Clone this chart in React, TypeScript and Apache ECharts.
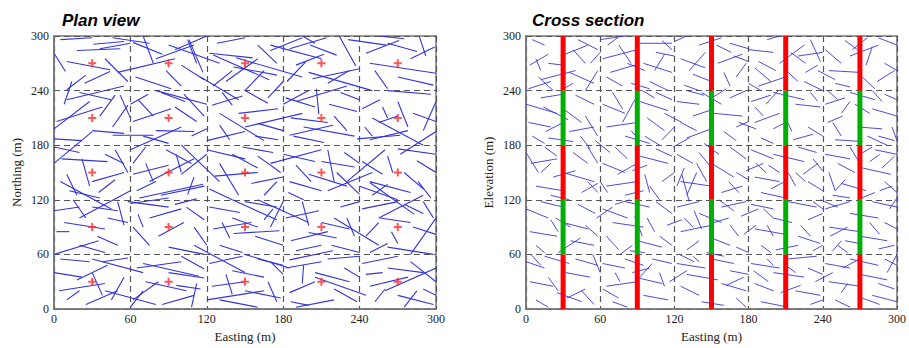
import React, { useEffect, useRef } from "react";
import * as echarts from "echarts";

const tickValues = [0, 60, 120, 180, 240, 300];

// Plan view fracture traces [x1, y1, x2, y2] (Easting, Northing)
const planSegments = [
  [0,281,9,261],[10,272,44,263],[31,291,55,294],[36,286,60,292],[18,284,52,286],[24,248,44,261],[10,241,25,257],[40,275,58,250],[5,296,30,298],
  [46,298,75,292],[62,293,85,280],[70,300,78,270],[80,275,110,290],[88,262,100,245],[95,285,120,300],[100,268,118,252],[64,255,92,242],[105,296,112,270],
  [106,296,117,260],[122,281,156,276],[141,266,175,257],[128,292,150,298],[135,250,160,275],[160,290,175,270],[165,262,150,240],[125,245,140,262],[170,284,195,298],
  [185,286,214,298],[201,290,222,279],[190,268,212,280],[203,253,240,264],[224,300,237,267],[183,250,198,272],[215,248,232,262],[195,300,205,292],
  [231,296,261,290],[245,281,271,295],[248,270,300,259],[287,299,292,278],[262,292,285,283],[252,262,262,242],[270,255,298,246],[280,275,299,288],[255,300,275,297],
  [0,198,28,228],[8,225,14,250],[2,206,38,222],[20,238,45,230],[36,212,48,235],[46,200,58,224],[0,187,22,185],[30,196,55,193],[52,235,60,210],
  [62,206,92,220],[66,230,78,212],[80,196,110,195],[95,222,112,206],[84,238,103,228],[102,236,118,212],[70,190,90,182],[108,190,120,198],[60,225,74,236],
  [124,224,148,234],[130,202,138,186],[145,215,176,220],[150,240,168,226],[160,204,180,196],[168,232,180,250],[132,238,140,224],[158,190,176,186],[120,185,150,195],
  [182,232,205,222],[186,210,215,205],[206,242,208,214],[216,225,238,217],[220,212,230,196],[188,190,212,183],[225,238,240,230],[196,200,236,190],[180,225,200,240],
  [242,220,256,230],[258,222,262,210],[270,228,278,200],[282,215,300,206],[248,186,278,196],[262,240,296,236],[290,196,300,228],[255,205,270,212],[244,200,250,190],
  [0,178,20,172],[6,165,42,162],[10,148,18,125],[22,165,28,135],[30,140,55,150],[40,170,55,160],[35,128,48,142],[48,175,58,150],[12,130,36,122],
  [62,148,90,158],[65,130,80,140],[72,160,78,140],[84,125,118,135],[96,170,100,150],[100,148,120,170],[105,126,110,145],[88,175,108,160],[62,160,72,178],
  [120,175,150,165],[126,146,160,150],[130,160,145,125],[148,178,172,172],[155,138,180,145],[160,168,178,150],[122,132,140,120],[165,125,175,140],[140,170,160,155],
  [180,170,205,162],[185,140,210,130],[190,158,202,140],[215,175,220,140],[222,150,240,126],[228,172,240,160],[184,128,196,120],[200,148,230,135],[210,162,236,156],
  [242,162,258,148],[248,140,280,128],[262,168,266,150],[270,176,300,170],[275,150,290,132],[285,163,300,150],[250,125,262,137],[286,140,296,122],[240,135,270,120],
  [0,108,20,112],[2,85,12,85],[8,95,40,88],[15,120,25,100],[30,112,50,108],[34,80,50,70],[42,100,58,95],[20,70,40,62],[50,118,55,92],
  [60,116,90,122],[62,90,75,70],[75,100,100,110],[82,80,102,95],[90,68,118,60],[104,112,118,98],[66,104,70,90],[110,90,120,70],[95,115,112,121],
  [122,112,146,106],[125,88,155,95],[130,70,148,62],[140,100,160,90],[150,118,175,112],[158,80,180,70],[165,98,172,110],[132,95,138,78],[170,90,180,118],
  [182,100,208,108],[186,75,215,85],[195,118,200,92],[210,95,232,88],[218,70,240,62],[225,112,240,118],[190,64,210,70],[230,100,236,80],[200,84,222,78],
  [242,110,270,118],[245,80,255,95],[256,100,280,95],[262,68,298,60],[275,115,290,105],[282,90,300,82],[248,62,262,72],[290,118,298,100],[265,85,270,72],
  [0,40,22,35],[4,20,40,28],[10,10,20,20],[18,32,42,48],[25,5,50,20],[38,52,58,56],[45,10,55,35],[30,40,38,15],[5,55,28,52],
  [62,10,82,30],[65,45,100,52],[72,30,104,20],[85,5,110,15],[90,40,118,34],[100,58,118,44],[108,2,112,28],[70,20,60,2],[96,26,115,22],
  [122,50,148,58],[124,25,150,30],[130,10,160,2],[140,42,165,35],[150,20,178,12],[160,55,180,48],[168,30,175,8],[135,38,140,16],[170,52,180,38],
  [182,45,210,52],[185,18,205,30],[190,2,220,10],[205,40,232,30],[215,55,240,58],[220,22,238,8],[195,28,196,48],[228,45,240,35],[186,8,200,4],
  [242,50,270,58],[248,25,278,35],[252,8,260,22],[262,45,290,40],[270,15,298,5],[280,52,300,30],[290,22,300,15],[245,38,258,40],[275,2,285,20]
];

// Longer plan-view traces that cross the cell boundaries
const planLongSegments = [
  [0,160,30,195],[46,191,78,191],[67,122,117,137],[58,118,90,112],[141,83,177,86],[70,50,114,36],[125,279,169,252],[143,276,195,255],
  [185,191,219,202],[238,187,272,191],[272,170,300,195],[248,139,283,104],[185,54,219,64],[0,60,35,75],[20,100,60,130],[80,240,120,225],
  [100,180,130,140],[150,200,195,215],[160,120,200,95],[200,260,250,240],[230,140,260,175],[260,20,300,45],[220,100,255,70],[40,20,80,5],
  [110,70,150,40],[170,160,210,175],[50,260,95,275],[10,230,55,245],[120,10,165,20],[250,210,290,180],[205,35,245,15],[140,120,175,98],
  [75,140,110,165],[30,55,70,40],[280,60,300,100],[190,228,230,245],[115,255,145,230],[60,175,100,200],[5,140,45,110],[215,130,250,150],
  [150,60,185,45],[90,290,130,270],[170,290,210,275],[255,100,290,125],[130,215,165,185]
];

// Cross-section fracture traces [x1, y1, x2, y2] (Easting, Elevation)
const sectionSegments = [
  [5,296,15,290],[8,275,12,262],[12,252,40,262],[2,242,20,250],[28,278,50,290],[35,260,55,248],[42,296,58,285],[18,270,30,268],[48,240,58,262],
  [60,296,80,300],[62,275,90,285],[65,255,78,245],[75,290,85,270],[92,292,118,292],[95,270,118,260],[100,250,115,240],[105,282,120,278],[85,248,100,242],
  [120,294,130,300],[125,275,145,265],[135,258,150,250],[140,290,158,298],[155,270,175,280],[160,260,165,245],[165,292,180,286],[128,246,140,240],[170,255,178,270],
  [180,285,200,282],[185,265,198,250],[195,296,205,300],[205,270,225,290],[212,260,220,250],[220,278,240,282],[230,296,238,272],[188,245,210,255],[225,250,240,240],
  [242,285,255,270],[245,262,270,260],[258,295,268,285],[262,278,285,290],[272,255,282,242],[285,298,300,290],[290,270,300,262],[250,248,262,244],[275,268,280,288],
  [0,225,25,215],[2,205,20,200],[5,190,15,182],[12,232,30,236],[30,220,45,205],[35,195,55,200],[40,235,55,225],[18,188,38,184],[48,212,58,190],
  [62,225,80,215],[65,200,90,205],[70,238,78,220],[80,190,100,182],[92,228,115,218],[98,210,112,196],[105,238,118,230],[85,196,90,188],[110,186,120,200],
  [122,228,140,225],[125,205,138,196],[130,188,150,198],[142,238,158,225],[152,215,175,212],[160,195,170,185],[165,232,178,240],[135,212,148,218],[170,200,180,206],
  [182,228,198,235],[185,205,205,215],[190,188,200,182],[200,238,225,230],[210,210,215,195],[218,225,238,222],[228,200,240,190],[185,222,192,212],[230,238,236,228],
  [242,225,258,232],[248,205,255,190],[255,215,262,228],[262,238,282,230],[268,200,288,198],[280,220,300,212],[290,236,300,230],[285,190,298,185],[250,186,272,184],
  [0,172,10,150],[4,160,25,165],[8,135,30,130],[15,178,25,168],[30,150,55,140],[38,172,50,160],[45,128,58,138],[20,125,35,120],[50,178,58,160],
  [62,160,80,150],[65,135,90,140],[72,178,82,165],[80,125,95,130],[92,168,115,160],[96,148,100,128],[105,176,118,168],[110,140,120,150],[86,152,98,158],
  [122,170,135,160],[125,140,150,135],[130,125,138,150],[140,172,150,155],[150,160,168,145],[158,128,175,135],[165,178,178,165],[170,150,180,142],[128,155,122,135],
  [182,175,200,165],[185,145,205,140],[190,128,210,122],[200,170,225,162],[212,150,218,135],[220,178,235,172],[228,140,240,130],[196,158,205,150],[232,165,240,152],
  [242,170,262,165],[245,150,250,130],[255,138,275,130],[262,178,270,160],[272,155,295,148],[282,175,300,170],[290,140,300,128],[248,125,262,122],[278,162,286,170],
  [0,110,18,100],[3,85,25,80],[8,70,15,62],[12,118,30,112],[30,95,50,88],[36,75,55,70],[42,115,56,105],[20,98,26,85],[48,92,58,80],
  [62,110,82,100],[65,80,75,65],[70,95,95,90],[80,118,100,112],[90,75,110,68],[98,100,104,85],[105,118,118,105],[108,80,118,70],[84,64,96,62],
  [122,112,140,118],[125,85,150,92],[130,65,140,75],[140,105,158,95],[150,78,165,70],[158,112,178,118],[165,92,172,80],[170,68,180,62],[128,100,135,90],
  [182,115,200,110],[185,88,210,82],[190,70,198,62],[200,100,215,95],[212,118,235,112],[220,80,238,72],[228,98,240,105],[195,92,200,80],[232,64,240,70],
  [242,110,262,118],[245,90,270,85],[252,70,260,62],[262,105,285,100],[270,80,292,75],[280,118,300,112],[290,95,300,88],[248,64,255,75],[285,66,298,70],
  [0,52,15,45],[3,30,22,25],[8,10,18,2],[15,58,35,50],[25,18,45,8],[32,40,52,35],[40,55,58,48],[45,20,55,5],[18,35,26,20],
  [62,50,80,45],[65,25,90,30],[70,8,82,2],[80,55,95,48],[88,35,110,28],[95,15,115,10],[102,55,118,50],[108,40,112,25],[72,40,76,30],
  [122,50,145,45],[125,25,140,15],[130,38,155,32],[142,8,160,4],[150,55,168,50],[158,28,178,20],[165,42,180,38],[170,12,178,2],[135,58,140,52],
  [182,50,205,45],[185,28,200,20],[190,8,212,2],[200,40,225,35],[212,55,235,58],[218,20,238,15],[228,45,240,38],[195,55,200,48],[230,5,240,10],
  [242,50,262,45],[245,30,270,25],[250,10,262,2],[262,55,285,48],[270,38,292,32],[280,15,300,8],[290,55,300,48],[255,18,260,28],[285,28,298,22]
];

const sectionExtraSegments = [
  [3,268,18,280],[14,222,34,208],[22,145,40,152],[26,62,44,78],[33,12,48,22],[52,270,60,282],[56,185,68,172],[57,100,70,112],[62,22,75,12],
  [68,260,88,268],[74,148,90,160],[78,205,88,230],[88,102,94,80],[92,35,102,50],[104,262,112,280],[112,215,126,205],[114,92,126,98],[116,30,130,42],
  [119,178,132,188],[126,148,132,118],[132,262,145,282],[136,108,142,88],[144,182,156,170],[146,62,160,58],[148,230,162,242],[156,120,168,108],
  [162,26,176,35],[168,278,180,272],[172,205,186,198],[174,102,188,110],[178,152,192,160],[184,42,196,30],[188,272,202,262],[194,225,204,240],
  [198,132,212,142],[202,65,220,70],[206,18,222,26],[214,282,226,270],[216,186,232,192],[222,92,230,80],[224,148,236,160],[234,30,248,40],
  [236,262,250,252],[238,120,252,112],[244,205,256,212],[246,80,260,90],[252,160,266,150],[256,45,270,55],[264,285,276,298],[266,225,278,215],
  [268,120,282,128],[272,12,286,5],[276,190,292,180],[278,95,286,82],[284,250,298,262],[288,155,298,168],[292,40,300,60],[294,110,300,122],
  [10,255,22,240],[16,195,30,205],[24,100,36,90],[38,285,48,270],[44,190,52,176],[50,140,58,128],[54,60,60,40],[66,290,74,298],[72,115,84,120],
  [82,270,96,262],[86,40,100,45],[96,190,108,180],[100,135,108,120],[110,295,118,285],[124,60,136,52],[130,240,144,235],[138,160,146,140],
  [152,95,164,100],[154,290,166,282],[164,140,172,128],[176,82,186,92],[180,248,190,240],[186,160,194,150],[192,110,200,100],[200,198,210,205],
  [208,50,218,40],[218,150,226,140],[226,260,236,268],[232,118,240,110],[244,240,252,230],[250,130,258,142],[258,75,270,72],[270,170,280,178],
  [280,240,288,228],[286,130,296,135],[296,200,300,185],[4,60,12,48],[12,150,20,160],[28,240,38,248],[60,140,66,128],[76,60,86,70],[94,240,104,232]
];

const sampleEasting = [30, 90, 150, 210, 270];
const sampleNorthing = [30, 90, 150, 210, 270];

const boreholeEasting = [30, 90, 150, 210, 270];
const intervalFrom = [0, 60, 120, 180, 240];
const intervalTo = [60, 120, 180, 240, 300];
const intervalColor = ["#ff0000", "#00b000", "#ff0000", "#00b000", "#ff0000"];

const serif = "'Liberation Serif', 'Times New Roman', serif";
const sans = "'Liberation Sans', Arial, sans-serif";

function xAxisFor(gridIndex: number) {
  return {
    type: "value",
    gridIndex,
    min: 0,
    max: 300,
    interval: 60,
    name: "Easting (m)",
    nameLocation: "middle",
    nameGap: 21,
    nameTextStyle: { fontFamily: serif, fontSize: 13, color: "#222" },
    axisLine: { show: true, lineStyle: { color: "#777", width: 1.5 } },
    axisTick: { show: false },
    axisLabel: { fontFamily: serif, fontSize: 12, color: "#222", margin: 4 },
    splitLine: { show: true, lineStyle: { color: "#555", type: [6, 4], width: 1.2 } },
  };
}

function yAxisFor(gridIndex: number, name: string) {
  return {
    type: "value",
    gridIndex,
    min: 0,
    max: 300,
    interval: 60,
    name,
    nameLocation: "middle",
    nameGap: 31,
    nameTextStyle: { fontFamily: serif, fontSize: 13, color: "#222" },
    axisLine: { show: true, lineStyle: { color: "#777", width: 1.5 } },
    axisTick: { show: false },
    axisLabel: { fontFamily: serif, fontSize: 12, color: "#222", margin: 5 },
    splitLine: { show: true, lineStyle: { color: "#555", type: [6, 4], width: 1.2 } },
  };
}

function segmentSeries(index: number, data: number[][], color: string, width: number) {
  return {
    type: "custom",
    xAxisIndex: index,
    yAxisIndex: index,
    clip: true,
    silent: true,
    encode: { x: [0, 2], y: [1, 3] },
    data,
    renderItem: (_params: any, api: any) => {
      const p1 = api.coord([api.value(0), api.value(1)]);
      const p2 = api.coord([api.value(2), api.value(3)]);
      return {
        type: "line",
        shape: { x1: p1[0], y1: p1[1], x2: p2[0], y2: p2[1] },
        style: { stroke: color, lineWidth: width },
      };
    },
    z: 2,
  };
}

export default function App() {
  const ref = useRef<HTMLDivElement>(null);

  useEffect(() => {
    if (!ref.current) return;
    const chart = echarts.init(ref.current, undefined, { renderer: "svg" });

    const samplePoints: number[][] = [];
    sampleEasting.forEach((x) => sampleNorthing.forEach((y) => samplePoints.push([x, y])));

    const boreholeData: number[][] = [];
    boreholeEasting.forEach((x) =>
      intervalFrom.forEach((f, i) => boreholeData.push([x, f, intervalTo[i], i]))
    );

    chart.setOption({
      animation: false,
      backgroundColor: "#ffffff",
      title: [
        {
          text: "Plan view",
          left: 57,
          top: 7,
          textStyle: { fontFamily: sans, fontSize: 17, fontWeight: "bold", fontStyle: "italic", color: "#000" },
        },
        {
          text: "Cross section",
          left: 527,
          top: 7,
          textStyle: { fontFamily: sans, fontSize: 17, fontWeight: "bold", fontStyle: "italic", color: "#000" },
        },
      ],
      grid: [
        { left: 54, top: 36, width: 382, height: 278, show: true, borderColor: "#777", borderWidth: 1.5, backgroundColor: "transparent" },
        { left: 526, top: 36, width: 382, height: 278, show: true, borderColor: "#777", borderWidth: 1.5, backgroundColor: "transparent" },
      ],
      xAxis: [xAxisFor(0), xAxisFor(1)],
      yAxis: [yAxisFor(0, "Northing (m)"), yAxisFor(1, "Elevation (m)")],
      series: [
        segmentSeries(0, planSegments, "#3434d8", 1.1),
        segmentSeries(0, planLongSegments, "#3434d8", 1.1),
        {
          type: "scatter",
          xAxisIndex: 0,
          yAxisIndex: 0,
          data: samplePoints,
          symbol: "path://M3,0H5V3H8V5H5V8H3V5H0V3H3Z",
          symbolSize: 8,
          itemStyle: { color: "#ff2a2a" },
          silent: true,
          z: 5,
        },
        segmentSeries(1, sectionSegments, "#3838d8", 0.9),
        segmentSeries(1, sectionExtraSegments, "#3838d8", 0.9),
        {
          type: "custom",
          xAxisIndex: 1,
          yAxisIndex: 1,
          silent: true,
          encode: { x: 0, y: [1, 2] },
          data: boreholeData,
          renderItem: (_params: any, api: any) => {
            const top = api.coord([api.value(0), api.value(2)]);
            const bottom = api.coord([api.value(0), api.value(1)]);
            return {
              type: "rect",
              shape: { x: top[0] - 2.5, y: top[1], width: 5, height: bottom[1] - top[1] },
              style: { fill: intervalColor[api.value(3)] },
            };
          },
          z: 6,
        },
      ],
    });

    return () => chart.dispose();
  }, []);

  return (
    <div
      ref={ref}
      style={{ position: "absolute", left: 0, top: 0, width: 909, height: 348, background: "#fff" }}
    />
  );
}
